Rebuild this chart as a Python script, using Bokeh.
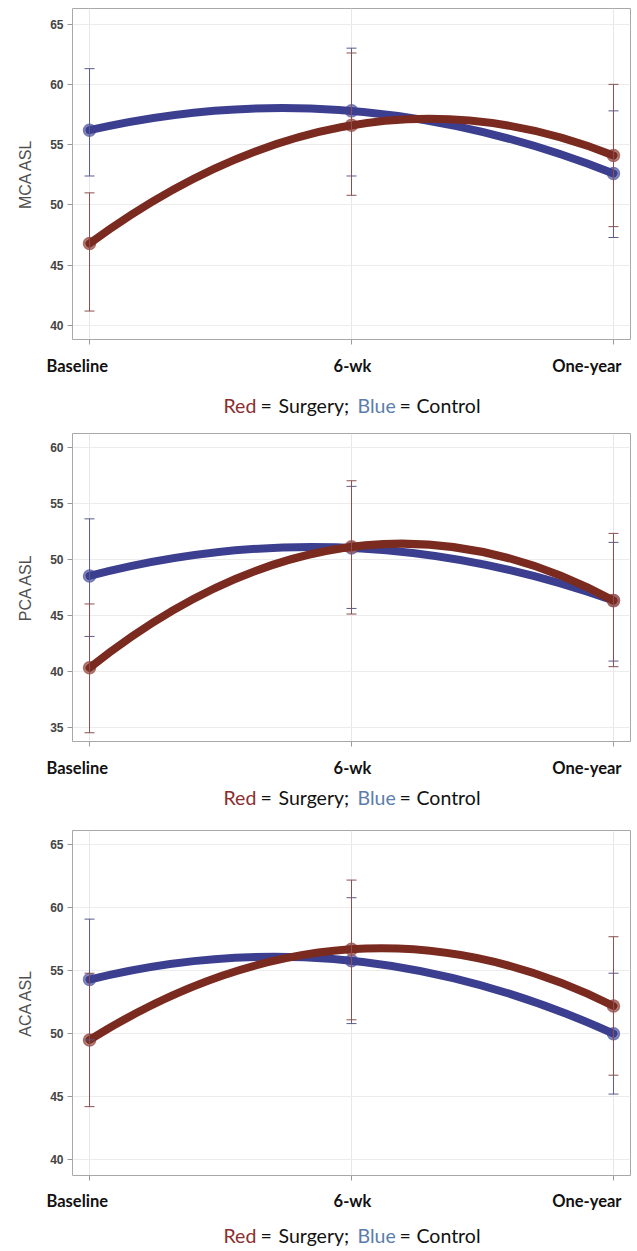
from bokeh.plotting import figure
from bokeh.models import (Range1d, FixedTicker, SingleIntervalTicker, ColumnDataSource,
                          Whisker, TeeHead)
from bokeh.core.properties import value
from bokeh.embed import file_html
from bokeh.resources import INLINE

# ---------------- data ----------------
timepoints = ["Baseline", "6-wk", "One-year"]

mca_surgery_mean = [46.8, 56.6, 54.1]
mca_surgery_upper = [51.0, 62.6, 60.0]
mca_surgery_lower = [41.2, 50.8, 48.2]
mca_control_mean = [56.2, 57.8, 52.6]
mca_control_upper = [61.3, 63.0, 57.8]
mca_control_lower = [52.4, 52.4, 47.3]

pca_surgery_mean = [40.3, 51.1, 46.3]
pca_surgery_upper = [46.0, 57.0, 52.3]
pca_surgery_lower = [34.5, 45.1, 40.4]
pca_control_mean = [48.5, 51.0, 46.3]
pca_control_upper = [53.6, 56.5, 51.5]
pca_control_lower = [43.1, 45.6, 40.9]

aca_surgery_mean = [49.5, 56.7, 52.2]
aca_surgery_upper = [54.8, 62.2, 57.7]
aca_surgery_lower = [44.2, 51.1, 46.7]
aca_control_mean = [54.3, 55.8, 50.0]
aca_control_upper = [59.1, 60.8, 54.8]
aca_control_lower = [49.5, 50.8, 45.2]

y_labels = ["MCA ASL", "PCA ASL", "ACA ASL"]
caption_parts = ["Red", "=", "Surgery;", "Blue", "=", "Control"]

# ---------------- style ----------------
W = 635
FRAME_LEFT = 72
RED = "#7b2a20"
BLUE = "#3c3f8f"
RED_HALO = "#a4605a"
BLUE_HALO = "#6a70b2"
RED_BAR = "#8a5050"
BLUE_BAR = "#5a5c8c"
CAP_RED = "#8b2e2e"
CAP_BLUE = "#5b7daa"
FONT = "Lato"
AXFONT = "Liberation Sans"


def panel(ylabel, s_mean, s_up, s_lo, c_mean, c_up, c_lo, yr, top, frame_h):
    bottom = 10
    p = figure(width=W, height=top + frame_h + bottom,
               x_range=Range1d(-0.065, 2.065), y_range=Range1d(*yr),
               output_backend="svg", toolbar_location=None,
               min_border_left=FRAME_LEFT, min_border_right=5,
               min_border_top=top, min_border_bottom=bottom)
    p.outline_line_color = "#a8a8a8"
    p.outline_line_width = 1
    p.background_fill_color = "white"

    xs = list(range(len(timepoints)))
    p.xaxis.ticker = FixedTicker(ticks=xs)
    p.xaxis.major_label_text_color = None
    p.xaxis.major_label_text_font_size = "1px"
    p.xaxis.major_label_standoff = 0
    p.xaxis.axis_line_color = None
    p.xaxis.major_tick_line_color = "#9a9a9a"
    p.xaxis.major_tick_out = 5
    p.xaxis.major_tick_in = 0
    p.xaxis.minor_tick_line_color = None

    p.yaxis.ticker = SingleIntervalTicker(interval=5)
    p.yaxis.axis_line_color = None
    p.yaxis.major_tick_line_color = "#9a9a9a"
    p.yaxis.major_tick_out = 5
    p.yaxis.major_tick_in = 0
    p.yaxis.minor_tick_line_color = None
    p.yaxis.major_label_text_font = AXFONT
    p.yaxis.major_label_text_font_size = "12px"
    p.yaxis.major_label_text_font_style = "bold"
    p.yaxis.major_label_text_color = "#444444"
    p.yaxis.major_label_standoff = 4
    p.yaxis.axis_label = ylabel
    p.yaxis.axis_label_text_font = AXFONT
    p.yaxis.axis_label_text_font_size = "16px"
    p.yaxis.axis_label_text_font_style = "normal"
    p.yaxis.axis_label_text_color = "#505050"
    p.yaxis.axis_label_standoff = 13

    p.xgrid.grid_line_color = "#e6e6ee"
    p.ygrid.grid_line_color = "#ececec"
    p.xgrid.ticker = FixedTicker(ticks=xs)

    # curves: parabola through the three means (quadratic Bezier, derived control point)
    for mean, col, halo in ((c_mean, BLUE, BLUE_HALO), (s_mean, RED, RED_HALO)):
        src = ColumnDataSource(dict(
            x0=[xs[0]], y0=[mean[0]], x1=[xs[2]], y1=[mean[2]],
            cx=[xs[1]], cy=[2 * mean[1] - (mean[0] + mean[2]) / 2.0]))
        p.scatter(xs, mean, size=12, fill_color=halo, fill_alpha=0.8,
                  line_color=halo, line_alpha=0.9, line_width=1.5)
        p.quadratic(x0="x0", y0="y0", x1="x1", y1="y1", cx="cx", cy="cy",
                    source=src, line_color=col, line_width=8, line_cap="round")

    # error bars (blue first, red on top)
    for up, lo, col in ((c_up, c_lo, BLUE_BAR), (s_up, s_lo, RED_BAR)):
        es = ColumnDataSource(dict(x=xs, upper=up, lower=lo))
        wk = Whisker(base="x", upper="upper", lower="lower", source=es,
                     dimension="height", line_color=col, line_width=1,
                     upper_head=TeeHead(size=10, line_color=col, line_width=1),
                     lower_head=TeeHead(size=10, line_color=col, line_width=1),
                     level="overlay")
        p.add_layout(wk)
    return p


def caption(height, lab_y, cap_y):
    c = figure(width=W, height=height, x_range=Range1d(0, W),
               y_range=Range1d(height, 0), output_backend="svg",
               toolbar_location=None, min_border=0,
               x_axis_location=None, y_axis_location=None)
    c.outline_line_color = None
    c.grid.visible = False
    aligns = ["left", "center", "right"]
    page_x = [46, 352, 621]
    for t, a, px in zip(timepoints, aligns, page_x):
        c.text(x=[px], y=[lab_y], text=[t], text_font=value(FONT),
               text_font_style="bold", text_font_size="16.5px",
               text_color="#111111", text_align=a, text_baseline="middle")
    cols = [CAP_RED, "#111111", "#111111", CAP_BLUE, "#111111", "#111111"]
    cap_x = [223, 260, 278, 357, 399, 416]
    for t, col, px in zip(caption_parts, cols, cap_x):
        c.text(x=[px], y=[cap_y], text=[t], text_font=value(FONT),
               text_font_size="19.5px", text_color=col,
               text_align="left", text_baseline="middle")
    return c


p1 = panel(y_labels[0], mca_surgery_mean, mca_surgery_upper, mca_surgery_lower,
           mca_control_mean, mca_control_upper, mca_control_lower,
           (38.84, 66.29), 8, 331)
c1 = caption(82, 16, 56)
p2 = panel(y_labels[1], pca_surgery_mean, pca_surgery_upper, pca_surgery_lower,
           pca_control_mean, pca_control_upper, pca_control_lower,
           (33.72, 61.22), 2, 308)
c2 = caption(78, 16, 46)
p3 = panel(y_labels[2], aca_surgery_mean, aca_surgery_upper, aca_surgery_lower,
           aca_control_mean, aca_control_upper, aca_control_lower,
           (38.73, 66.14), 1, 345)
c3 = caption(64, 15, 50)

open("out.html", "w").write(file_html([p1, c1, p2, c2, p3, c3], INLINE))
